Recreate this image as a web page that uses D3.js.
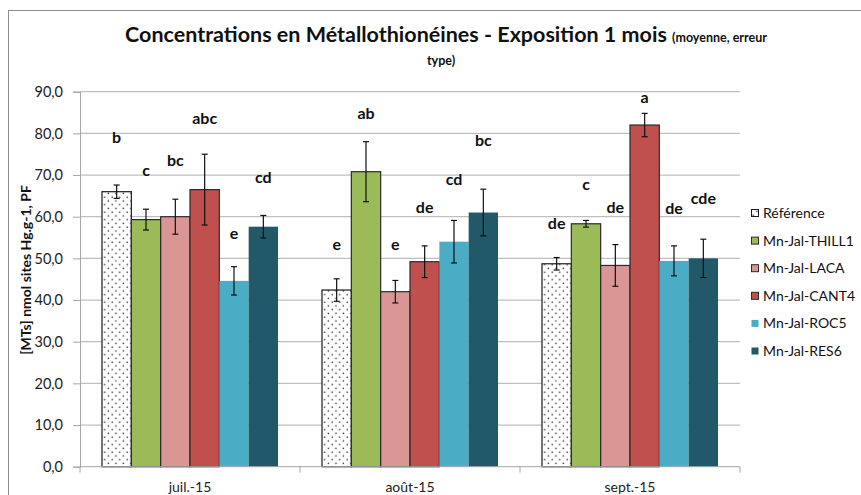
<!DOCTYPE html>
<html><head><meta charset="utf-8">
<script src="https://cdn.jsdelivr.net/npm/d3@7"></script>
<style>
body{margin:0;background:#fff;}
svg{display:block;font-family:Lato,"Open Sans",sans-serif;}
</style></head>
<body><svg id="c" width="861" height="495"></svg>
<script>
const categories = ["juil.-15", "août-15", "sept.-15"];
const seriesNames = ["Référence", "Mn-Jal-THILL1", "Mn-Jal-LACA", "Mn-Jal-CANT4", "Mn-Jal-ROC5", "Mn-Jal-RES6"];
const seriesColors = ["#ffffff", "#9bbb59", "#d99694", "#c0504d", "#4bacc6", "#215968"];
// mean values per series, one per category
const reference = [66.0, 42.4, 48.7];
const thill1 = [59.3, 70.8, 58.3];
const laca = [60.0, 42.0, 48.3];
const cant4 = [66.5, 49.2, 82.0];
const roc5 = [44.6, 54.0, 49.4];
const res6 = [57.6, 61.0, 50.0];
// standard errors
const refErr = [1.6, 2.7, 1.5];
const thill1Err = [2.5, 7.2, 0.8];
const lacaErr = [4.2, 2.7, 5.0];
const cant4Err = [8.5, 3.8, 2.8];
const roc5Err = [3.4, 5.1, 3.6];
const res6Err = [2.7, 5.6, 4.6];
// significance letters and their label heights (data units)
const refLetters = ["b", "e", "de"], refLetterY = [79.1, 53.4, 58.5];
const thill1Letters = ["c", "ab", "c"], thill1LetterY = [71.2, 84.9, 67.8];
const lacaLetters = ["bc", "e", "de"], lacaLetterY = [73.4, 53.4, 62.3];
const cant4Letters = ["abc", "de", "a"], cant4LetterY = [83.7, 62.3, 88.7];
const roc5Letters = ["e", "cd", "de"], roc5LetterY = [56.1, 69.0, 62.1];
const res6Letters = ["cd", "bc", "cde"], res6LetterY = [69.5, 78.2, 64.5];
const yTicks = [0, 10, 20, 30, 40, 50, 60, 70, 80, 90];

const values = [reference, thill1, laca, cant4, roc5, res6];
const errors = [refErr, thill1Err, lacaErr, cant4Err, roc5Err, res6Err];
const letters = [refLetters, thill1Letters, lacaLetters, cant4Letters, roc5Letters, res6Letters];
const letterY = [refLetterY, thill1LetterY, lacaLetterY, cant4LetterY, roc5LetterY, res6LetterY];
const strokes = ["#1a1a1a", "#2a2a2a", "#2a2a2a", "#2a2a2a", "none", "none"];

const svg = d3.select("#c");
const defs = svg.append("defs");
const pat = defs.append("pattern").attr("id", "dots").attr("patternUnits", "userSpaceOnUse")
  .attr("width", 7.5).attr("height", 7.5);
pat.append("rect").attr("width", 7.5).attr("height", 7.5).attr("fill", "#fff");
pat.append("rect").attr("x", 1.5).attr("y", 1.5).attr("width", 1.4).attr("height", 1.4).attr("fill", "#333");
pat.append("rect").attr("x", 5.25).attr("y", 5.25).attr("width", 1.4).attr("height", 1.4).attr("fill", "#333");

// outer chart border
svg.append("rect").attr("x", 8.5).attr("y", 10.5).attr("width", 870).attr("height", 500)
  .attr("fill", "none").attr("stroke", "#8c8c8c").attr("stroke-width", 1);

const plotL = 80, plotR = 740, plotT = 91.7, plotB = 466.7;
const y = d3.scaleLinear().domain([0, 90]).range([plotB, plotT]);
const x0 = d3.scaleBand().domain(categories).range([plotL, plotR]).paddingInner(0).paddingOuter(0);
const x1 = d3.scaleBand().domain(d3.range(6)).range([22, x0.bandwidth() - 22]).padding(0);

// gridlines
svg.append("g").selectAll("line").data(yTicks.slice(1)).join("line")
  .attr("x1", plotL).attr("x2", plotR).attr("y1", d => y(d)).attr("y2", d => y(d))
  .attr("stroke", "#bfbfbf").attr("stroke-width", 1.3);

// y axis
const yAxis = d3.axisLeft(y).tickValues(yTicks).tickSize(7).tickPadding(10)
  .tickFormat(d => d3.format(".1f")(d).replace(".", ","));
const ga = svg.append("g").attr("transform", `translate(${plotL},0)`).call(yAxis);
ga.select(".domain").attr("stroke", "#a6a6a6");
ga.selectAll(".tick line").attr("stroke", "#a6a6a6");
ga.selectAll("text").attr("font-size", 14.5).attr("fill", "#222").attr("font-family", "Lato");

// bars
const groups = svg.append("g").selectAll("g").data(categories).join("g")
  .attr("transform", d => `translate(${x0(d)},0)`);
groups.each(function(cat, ci) {
  const g = d3.select(this);
  for (let s = 0; s < 6; s++) {
    const v = values[s][ci];
    g.append("rect").attr("x", x1(s)).attr("width", x1.bandwidth())
      .attr("y", y(v)).attr("height", y(0) - y(v))
      .attr("fill", s === 0 ? "url(#dots)" : seriesColors[s])
      .attr("stroke", strokes[s]).attr("stroke-width", 1.2);
  }
});

// x axis
svg.append("line").attr("x1", plotL).attr("x2", plotR).attr("y1", plotB).attr("y2", plotB)
  .attr("stroke", "#a6a6a6").attr("stroke-width", 1);
svg.append("g").selectAll("line").data([...categories.map(c => x0(c)), plotR]).join("line")
  .attr("x1", d => d).attr("x2", d => d).attr("y1", plotB).attr("y2", plotB + 6)
  .attr("stroke", "#a6a6a6");
svg.append("g").selectAll("text").data(categories).join("text")
  .attr("x", d => x0(d) + x0.bandwidth() / 2).attr("y", 492)
  .attr("text-anchor", "middle").attr("font-size", 14).attr("fill", "#222").text(d => d);

// error bars
groups.each(function(cat, ci) {
  const g = d3.select(this);
  for (let s = 0; s < 6; s++) {
    const cx = x1(s) + x1.bandwidth() / 2;
    const v = values[s][ci], e = errors[s][ci];
    const eb = g.append("g").attr("stroke", "#111").attr("stroke-width", 1.2);
    eb.append("line").attr("x1", cx).attr("x2", cx).attr("y1", y(v + e)).attr("y2", y(v - e));
    eb.append("line").attr("x1", cx - 3).attr("x2", cx + 3).attr("y1", y(v + e)).attr("y2", y(v + e));
    eb.append("line").attr("x1", cx - 3).attr("x2", cx + 3).attr("y1", y(v - e)).attr("y2", y(v - e));
  }
});

// letters
groups.each(function(cat, ci) {
  const g = d3.select(this);
  for (let s = 0; s < 6; s++) {
    const cx = x1(s) + x1.bandwidth() / 2;
    g.append("text").attr("x", cx).attr("y", y(letterY[s][ci]))
      .attr("dy", "0.35em").attr("text-anchor", "middle")
      .attr("font-size", 16).attr("font-weight", "bold").attr("fill", "#111")
      .text(letters[s][ci]);
  }
});

// title
const title = svg.append("text").attr("x", 446).attr("y", 42).attr("text-anchor", "middle")
  .attr("font-weight", "bold").attr("fill", "#111");
title.append("tspan").attr("font-size", 21.5).text("Concentrations en Métallothionéines - Exposition 1 mois ");
title.append("tspan").attr("font-size", 12.5).text("(moyenne,  erreur");
svg.append("text").attr("x", 441).attr("y", 65).attr("text-anchor", "middle")
  .attr("font-weight", "bold").attr("font-size", 12.5).attr("fill", "#111").text("type)");

// y axis title
svg.append("text").attr("transform", "translate(31,270) rotate(-90)")
  .attr("text-anchor", "middle").attr("font-size", 14).attr("font-weight", "bold").attr("fill", "#111")
  .text("[MTs] nmol sites Hg.g-1, PF");

// legend
const lg = svg.append("g").selectAll("g").data(seriesNames).join("g")
  .attr("transform", (d, i) => `translate(751,${213 + i * 27.6})`);
lg.append("rect").attr("x", 0.5).attr("y", -3.5).attr("width", 7).attr("height", 7)
  .attr("fill", (d, i) => i === 0 ? "url(#dots)" : seriesColors[i])
  .attr("stroke", (d, i) => strokes[i]).attr("stroke-width", 1);
lg.append("text").attr("x", 12).attr("dy", "0.35em").attr("font-size", 14).attr("fill", "#111").text(d => d);
</script></body></html>
